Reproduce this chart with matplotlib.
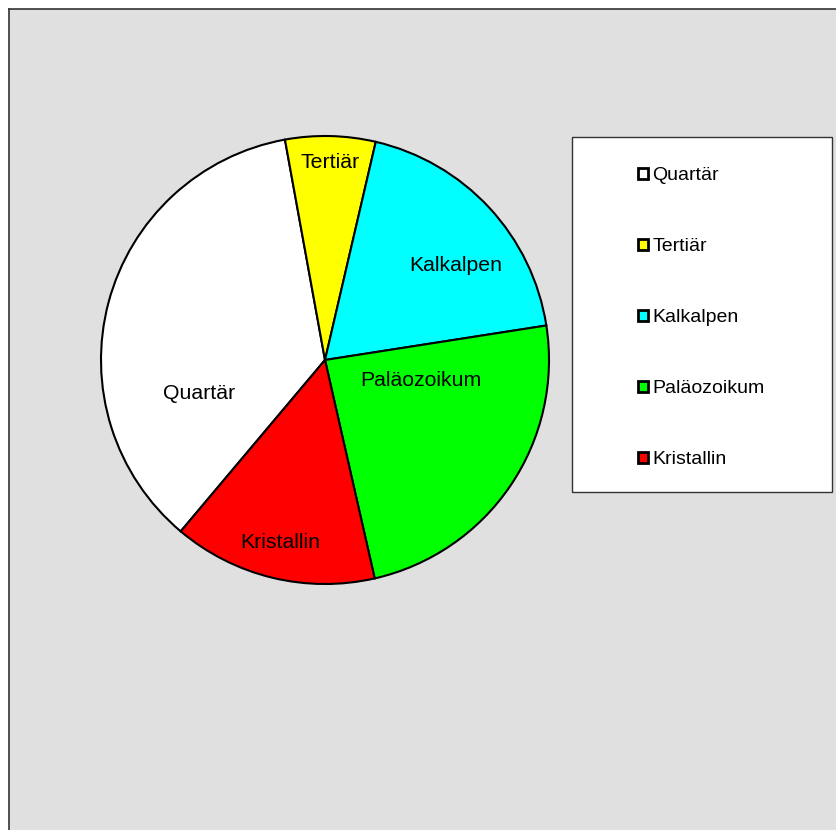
import matplotlib.pyplot as plt
import numpy as np
from matplotlib.patches import Rectangle, Patch
from matplotlib.lines import Line2D

plt.rcParams['font.family'] = ['Liberation Sans', 'DejaVu Sans']

# data (percent shares)
labels = ['Quartär', 'Tertiär', 'Kalkalpen', 'Paläozoikum', 'Kristallin']
values = [36.0, 6.5, 18.9, 23.9, 14.7]
colors = ['#FFFFFF', '#FFFF00', '#00FFFF', '#00FF00', '#FF0000']

W, H = 836, 830
fig = plt.figure(figsize=(W / 100, H / 100), dpi=100)
fig.patch.set_facecolor('white')

# gray plot area with top/left border
fig.patches.append(Rectangle((9 / W, 0), 1, 1 - 9 / H, transform=fig.transFigure,
                             facecolor='#E0E0E0', edgecolor='none', zorder=-10))
fig.lines.append(Line2D([9 / W, 9 / W], [0, 1 - 9 / H], transform=fig.transFigure,
                        color='#333333', lw=1.2, zorder=-5))
fig.lines.append(Line2D([9 / W, 1], [1 - 9 / H, 1 - 9 / H], transform=fig.transFigure,
                        color='#333333', lw=1.2, zorder=-5))

# pie axes: center (325, 360) px, radius 224 px
cx, cy, r = 325, 360, 224
ax = fig.add_axes([(cx - r) / W, 1 - (cy + r) / H, 2 * r / W, 2 * r / H])
ax.set_facecolor('none')
ax.axis('off')

wedges, _ = ax.pie(values, colors=colors, startangle=-130.1, counterclock=False,
                   radius=1.0, wedgeprops=dict(edgecolor='black', linewidth=1.5))
ax.set_xlim(-1, 1)
ax.set_ylim(-1, 1)

# label placement (radius fraction and angular nudge)
label_r = [0.58, 0.88, 0.72, 0.44, 0.84]
label_nudge = [29.7, 0, -7, 22, 0]
for w, lab, lr, nd in zip(wedges, labels, label_r, label_nudge):
    ang = np.deg2rad((w.theta1 + w.theta2) / 2 + nd)
    ax.text(lr * np.cos(ang), lr * np.sin(ang), lab, ha='center', va='center',
            fontsize=15.3)

# legend box
fig.patches.append(Rectangle((572 / W, 1 - 492 / H), 260 / W, 355 / H,
                             transform=fig.transFigure, facecolor='white',
                             edgecolor='#333333', lw=1.0, zorder=1))
handles = [Patch(facecolor=c, edgecolor='black', linewidth=2) for c in colors]
leg = fig.legend(handles, labels, loc='upper left',
                 bbox_to_anchor=(638 / W, 1 - 167 / H), frameon=False,
                 fontsize=14, handlelength=0.5, handleheight=0.5,
                 handletextpad=0.25, labelspacing=2.78, borderpad=0,
                 borderaxespad=0)
leg.set_zorder(2)

fig.savefig('out.png', dpi=100)
